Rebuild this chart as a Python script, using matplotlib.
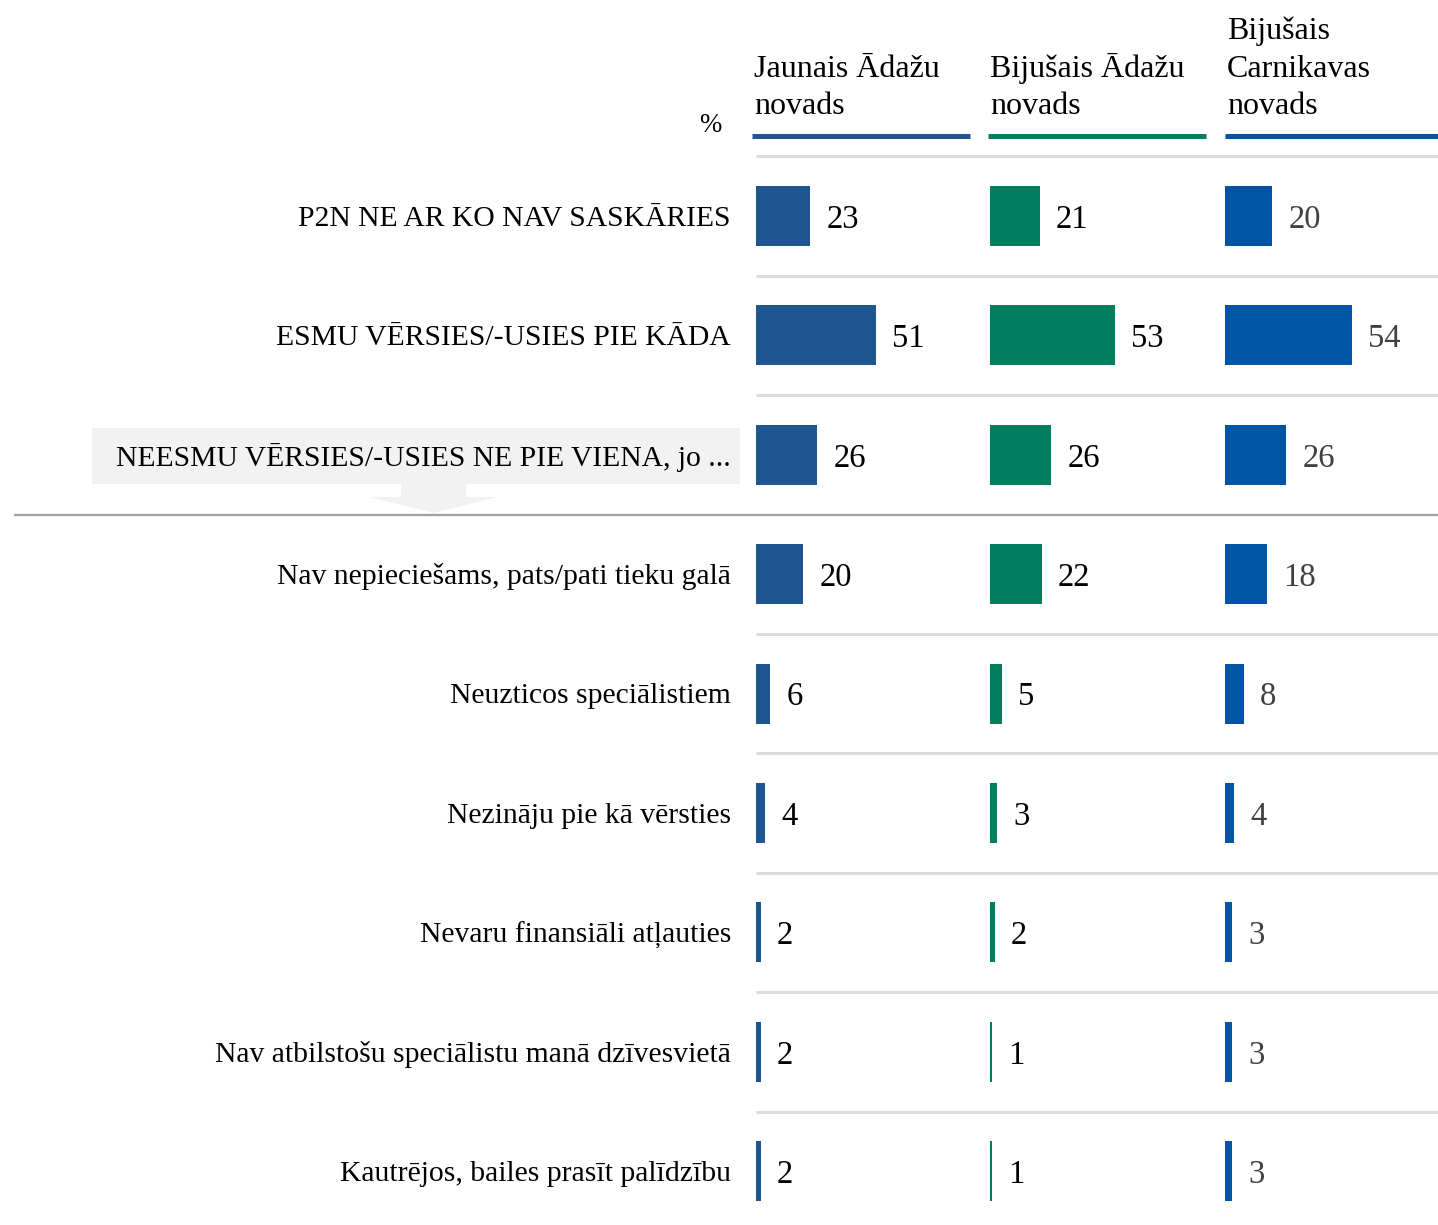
import matplotlib
matplotlib.use("Agg")
import matplotlib.pyplot as plt
from matplotlib import transforms
from matplotlib.patches import Rectangle, Polygon

plt.rcParams['font.family'] = ['Liberation Serif', 'DejaVu Serif']

# ---------------- data ----------------
categories = [
    "P2N NE AR KO NAV SASKĀRIES",
    "ESMU VĒRSIES/-USIES PIE KĀDA",
    "NEESMU VĒRSIES/-USIES NE PIE VIENA, jo ...",
    "Nav nepieciešams, pats/pati tieku galā",
    "Neuzticos speciālistiem",
    "Nezināju pie kā vērsties",
    "Nevaru finansiāli atļauties",
    "Nav atbilstošu speciālistu manā dzīvesvietā",
    "Kautrējos, bailes prasīt palīdzību",
]
groups = ["Jaunais Ādažu\nnovads", "Bijušais Ādažu\nnovads", "Bijušais\nCarnikavas\nnovads"]
jaunais_adazu = [23, 51, 26, 20, 6, 4, 2, 2, 2]
bijusais_adazu = [21, 53, 26, 22, 5, 3, 2, 1, 1]
bijusais_carnikavas = [20, 54, 26, 18, 8, 4, 3, 3, 3]
series = [jaunais_adazu, bijusais_adazu, bijusais_carnikavas]

colors = ["#1F5591", "#007F5F", "#0054A6"]
value_colors = ["#000000", "#000000", "#404040"]

# ---------------- layout (pixels) ----------------
W, H = 1438, 1225
fig = plt.figure(figsize=(W / 100, H / 100), dpi=100)

bg = fig.add_axes([0, 0, 1, 1], zorder=0)
bg.set_xlim(0, W)
bg.set_ylim(H, 0)
bg.axis("off")

row0 = 216.0
row_h = 119.4
px_per_unit = 2.36
panel_left = [756, 990, 1225]
panel_w = 213
FS_LABEL = 21.3
FS_VAL = 23.5
FS_HEAD = 23

r_top = -row0 / row_h
r_bot = (H - row0) / row_h

def ypix(r):
    return row0 + row_h * r

# separators
for k in range(len(categories)):
    y = ypix(k - 0.5)
    if k == 3:
        bg.plot([14, W], [y, y], color="#a0a0a0", lw=1.6, solid_capstyle="butt", zorder=1)
    else:
        bg.plot([756, W], [y, y], color="#dcdcdc", lw=2.2, solid_capstyle="butt", zorder=1)

# grey box + arrow behind third label
bg.add_patch(Rectangle((92, 428), 648, 56, facecolor="#f2f2f2", edgecolor="none", zorder=1))
bg.add_patch(Rectangle((401, 484), 65, 13, facecolor="#f2f2f2", edgecolor="none", zorder=1))
bg.add_patch(Polygon([[370, 497], [497, 497], [434, 513]], closed=True,
                     facecolor="#f2f2f2", edgecolor="none", zorder=1))

axes = []
for j, (vals, c) in enumerate(zip(series, colors)):
    ax = fig.add_axes([panel_left[j] / W, 0, panel_w / W, 1], zorder=2)
    ax.set_xlim(0, panel_w / px_per_unit)
    ax.set_ylim(r_bot, r_top)
    ax.axis("off")
    ax.patch.set_alpha(0)
    ypos = list(range(len(categories)))
    ax.barh(ypos, vals, height=60 / row_h, color=c, edgecolor="none")
    for i, v in enumerate(vals):
        ax.annotate(f"{v}", xy=(v, i), xytext=(11.5, -2.5), textcoords="offset points",
                    ha="left", va="center", fontsize=FS_VAL, color=value_colors[j])
    axes.append(ax)

# header lines and texts
header_x = [(752, 970), (988, 1206), (1225, W)]
for j, (x0, x1) in enumerate(header_x):
    bg.plot([x0, x1], [136, 136], color=colors[j], lw=3.6, solid_capstyle="butt", zorder=2)
    bg.text(x0 + 2, 121, groups[j], ha="left", va="bottom", fontsize=FS_HEAD,
            linespacing=1.38, color="#000000")
bg.text(710, 126, "%", ha="center", va="center", fontsize=FS_LABEL - 2, color="#000000")

# category labels
ax1 = axes[0]
tr = transforms.blended_transform_factory(bg.transData, ax1.transData)
for i, cat in enumerate(categories):
    ax1.annotate(cat, xy=(731, i), xycoords=tr, xytext=(0, -2), textcoords="offset points",
                 ha="right", va="center", fontsize=FS_LABEL, color="#000000")

fig.savefig("out.png", dpi=100)
